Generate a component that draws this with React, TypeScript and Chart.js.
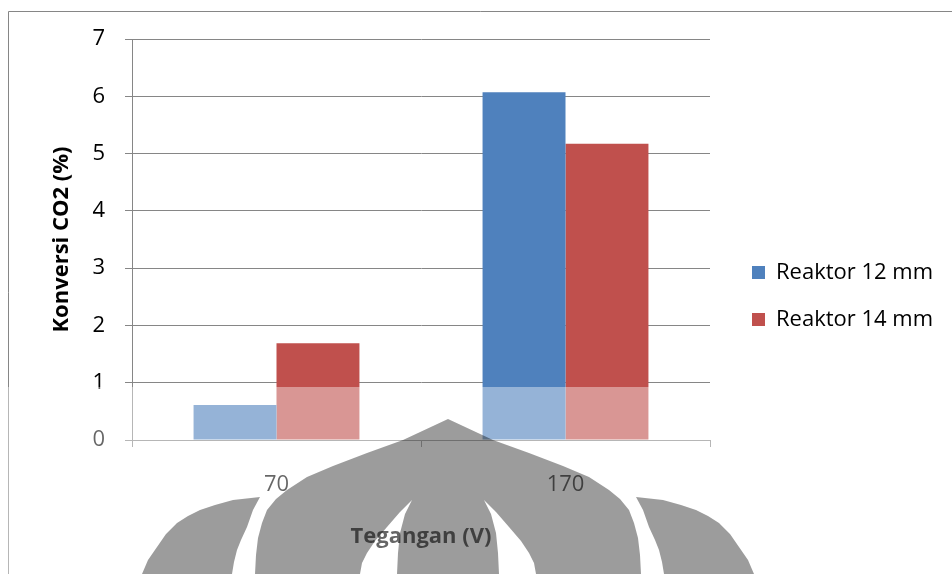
import { useEffect, useRef } from 'react';
import { Chart, registerables } from 'chart.js';

Chart.register(...registerables);

// Data
const categories = ['70', '170'];
const seriesNames = ['Reaktor 12 mm', 'Reaktor 14 mm'];
const reaktor12 = [0.61, 6.07];
const reaktor14 = [1.69, 5.17];
const seriesColors = ['#4F81BD', '#C0504D'];
const yMin = 0;
const yMax = 7;
const yStep = 1;
const yTitle = 'Konversi CO2 (%)';
const xTitle = 'Tegangan (V)';

const FONT = '"Open Sans"';
const GRID = '#868686';

// Emblem outline helpers (left half; right half is mirrored about the centre)
const EMBLEM_CX = 448;
const mirror = (pts: number[][]) => pts.map(([x, y]) => [2 * EMBLEM_CX - x, y]);

const domeLeft = [
  [255, 574], [256, 555], [258, 538], [262, 523], [267, 510], [276, 499],
  [287, 490], [307, 477], [333, 466], [367, 453], [403, 440], [448, 419],
];
const slitOuter = [[412, 500], [400, 512], [387, 527], [375, 541], [367, 553], [362, 563], [360, 574]];
const slitInner = [[412, 500], [405, 514], [400, 533], [398, 553], [397, 574]];
const petalOuter = [
  [142, 574], [148, 560], [157, 547], [166, 534], [177, 523], [188, 516],
  [200, 510], [215, 505], [233, 500], [260, 497],
];
const petalInner = [[260, 497], [253, 510], [247, 527], [241, 540], [237, 550], [234, 562], [232, 574]];

function tracePoints(ctx: CanvasRenderingContext2D, pts: number[][], start = false) {
  pts.forEach(([x, y], i) => {
    if (start && i === 0) ctx.moveTo(x, y);
    else ctx.lineTo(x, y);
  });
}

const decorPlugin = {
  id: 'decor',
  afterDraw(chart: any) {
    const ctx: CanvasRenderingContext2D = chart.ctx;
    const W = chart.width;
    const H = chart.height;
    ctx.save();

    // outer chart frame
    ctx.strokeStyle = GRID;
    ctx.lineWidth = 1;
    ctx.beginPath();
    ctx.moveTo(8.5, H);
    ctx.lineTo(8.5, 11.5);
    ctx.lineTo(W, 11.5);
    ctx.stroke();

    // legend
    const lx = 752;
    const ly0 = 273;
    const lstep = 47;
    ctx.font = `22px ${FONT}`;
    ctx.textBaseline = 'middle';
    ctx.textAlign = 'left';
    chart.data.datasets.forEach((ds: any, i: number) => {
      const cy = ly0 + i * lstep;
      ctx.fillStyle = ds.backgroundColor;
      ctx.fillRect(lx, cy - 7, 13, 13);
      ctx.fillStyle = '#000';
      ctx.fillText(ds.label, lx + 24, cy);
    });

    // faded lower band
    ctx.fillStyle = 'rgba(255,255,255,0.4)';
    ctx.fillRect(0, 387, W, H - 387);

    // emblem
    ctx.globalCompositeOperation = 'multiply';
    ctx.fillStyle = '#9c9c9c';

    ctx.beginPath();
    tracePoints(ctx, domeLeft, true);
    tracePoints(ctx, mirror(domeLeft).reverse().slice(1));
    tracePoints(ctx, mirror(slitOuter).reverse());
    tracePoints(ctx, mirror(slitInner).slice(1));
    tracePoints(ctx, slitInner.slice().reverse());
    tracePoints(ctx, slitOuter.slice(1));
    ctx.closePath();
    ctx.fill();

    ctx.beginPath();
    tracePoints(ctx, petalOuter, true);
    tracePoints(ctx, petalInner.slice(1));
    ctx.closePath();
    ctx.fill();

    ctx.beginPath();
    tracePoints(ctx, mirror(petalOuter), true);
    tracePoints(ctx, mirror(petalInner).slice(1));
    ctx.closePath();
    ctx.fill();

    ctx.restore();
  },
};

export default function App() {
  const canvasRef = useRef<HTMLCanvasElement | null>(null);

  useEffect(() => {
    const canvas = canvasRef.current;
    if (!canvas) return;
    Chart.defaults.font.family = FONT;

    const chart = new Chart(canvas, {
      type: 'bar',
      data: {
        labels: categories,
        datasets: [
          { label: seriesNames[0], data: reaktor12, backgroundColor: seriesColors[0], borderWidth: 0 },
          { label: seriesNames[1], data: reaktor14, backgroundColor: seriesColors[1], borderWidth: 0 },
        ],
      },
      options: {
        responsive: false,
        animation: false,
        devicePixelRatio: 1,
        layout: { padding: { left: 0, right: 242, top: 39, bottom: 0 } },
        datasets: { bar: { categoryPercentage: 0.574, barPercentage: 1 } },
        plugins: {
          legend: { display: false },
          tooltip: { enabled: false },
        },
        scales: {
          x: {
            offset: true,
            grid: { display: true, drawOnChartArea: false, drawTicks: true, tickLength: 7, color: GRID, offset: true },
            border: { display: true, color: GRID },
            ticks: { color: '#000', font: { size: 22 }, padding: 25, maxRotation: 0 },
            title: {
              display: true,
              text: xTitle,
              color: '#000',
              font: { size: 22, weight: 'bold' },
              padding: { top: 0, bottom: 24 },
            },
            afterFit: (s: any) => { s.height = 134; },
          },
          y: {
            min: yMin,
            max: yMax,
            ticks: { stepSize: yStep, color: '#000', font: { size: 22 }, padding: 20 },
            grid: { color: GRID, tickLength: 7 },
            border: { display: true, color: GRID },
            title: {
              display: true,
              text: yTitle,
              color: '#000',
              font: { size: 22, weight: 'bold' },
              padding: { top: 49, bottom: 0 },
            },
            afterFit: (s: any) => { s.width = 132; },
          },
        },
      },
      plugins: [decorPlugin],
    });

    return () => chart.destroy();
  }, []);

  return (
    <div style={{ position: 'fixed', left: 0, top: 0, width: 952, height: 574, background: '#fff' }}>
      <canvas ref={canvasRef} width={952} height={574} style={{ display: 'block' }} />
    </div>
  );
}
